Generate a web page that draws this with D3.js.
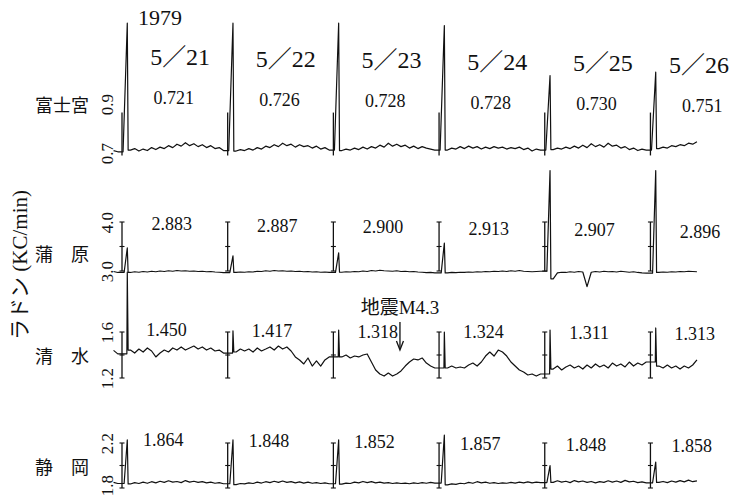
<!DOCTYPE html>
<html>
<head>
<meta charset="utf-8">
<script src="https://cdn.jsdelivr.net/npm/d3@7"></script>
<style>
  body { margin: 0; background: #fff; }
  svg { display: block; }
</style>
</head>
<body>
<svg id="chart" width="732" height="497"></svg>
<script>
// Radon records at four stations, 1979 May 21-26
const year = "1979";
const days = ["5／21", "5／22", "5／23", "5／24", "5／25", "5／26"];
const stations = ["富士宮", "蒲　原", "清　水", "静　岡"];
const yTitle = "ラドン (KC/min)";

// daily means printed in each strip
const fujiMeans = [0.721, 0.726, 0.728, 0.728, 0.730, 0.751];
const kambaraMeans = [2.883, 2.887, 2.900, 2.913, 2.907, 2.896];
const shimizuMeans = [1.450, 1.417, 1.318, 1.324, 1.311, 1.313];
const shizuokaMeans = [1.864, 1.848, 1.852, 1.857, 1.848, 1.858];

// tick labels
const fujiTicks = [0.7, 0.9];
const kambaraTicks = [3.0, 4.0];
const shimizuTicks = [1.2, 1.6];
const shizuokaTicks = [1.8, 2.2];

// height of the daily calibration spike
const fujiSpikes = [1.23, 1.23, 1.23, 1.22, 1.016, 1.03];
const kambaraSpikes = [3.47, 3.31, 3.37, 3.57, 5.05, 5.05];
const shimizuSpikes = [2.12, 1.61, 1.617, 1.6, 1.617, 1.635];
const shizuokaSpikes = [2.227, 2.227, 2.227, 2.27, 2.0, 2.03];

// trace just before the first marker
const fujiLead = [0.71, 0.705];
const kambaraLead = [2.99, 2.97];
const shimizuLead = [1.44, 1.41];
const shizuokaLead = [1.85, 1.84];

// trace samples, one list per day (every 0.04 day after the spike)
const fujiTrace = [
  [0.712, 0.718, 0.708, 0.716, 0.71, 0.722, 0.714, 0.724, 0.718, 0.73, 0.722, 0.736, 0.728, 0.742, 0.73, 0.738, 0.726, 0.734, 0.722, 0.73, 0.718, 0.722, 0.71],
  [0.708, 0.714, 0.71, 0.718, 0.712, 0.722, 0.716, 0.728, 0.722, 0.734, 0.726, 0.74, 0.73, 0.736, 0.724, 0.734, 0.726, 0.73, 0.72, 0.728, 0.716, 0.722, 0.712],
  [0.71, 0.716, 0.712, 0.72, 0.714, 0.724, 0.716, 0.726, 0.72, 0.732, 0.724, 0.74, 0.728, 0.736, 0.726, 0.732, 0.72, 0.728, 0.718, 0.726, 0.72, 0.716, 0.712],
  [0.712, 0.72, 0.716, 0.726, 0.718, 0.728, 0.72, 0.726, 0.716, 0.724, 0.718, 0.726, 0.72, 0.724, 0.716, 0.722, 0.718, 0.724, 0.714, 0.72, 0.708, 0.716, 0.712],
  [0.714, 0.72, 0.716, 0.724, 0.718, 0.728, 0.72, 0.732, 0.722, 0.738, 0.726, 0.734, 0.724, 0.74, 0.728, 0.732, 0.72, 0.726, 0.714, 0.72, 0.71, 0.716, 0.712],
  [0.718, 0.724, 0.72, 0.73, 0.726, 0.734, 0.73, 0.74, 0.736, 0.746]
];
const kambaraTrace = [
  [2.97, 2.985, 2.975, 2.99, 2.98, 2.995, 2.985, 3.0, 2.99, 3.005, 2.995, 3.01, 3.0, 3.005, 2.995, 3.0, 2.99, 2.995, 2.985, 2.99, 2.98, 2.975, 2.965],
  [2.97, 2.98, 2.975, 2.985, 2.98, 2.995, 2.99, 3.005, 2.995, 3.01, 3.0, 3.005, 2.995, 3.0, 2.99, 2.995, 2.985, 2.99, 2.98, 2.985, 2.975, 2.98, 2.97],
  [2.975, 2.985, 2.98, 2.99, 2.985, 3.0, 2.99, 3.01, 3.0, 3.015, 3.005, 3.0, 2.995, 3.005, 2.99, 2.995, 2.985, 2.99, 2.98, 2.975, 2.965, 2.97, 2.96],
  [2.96, 2.97, 2.965, 2.975, 2.97, 2.98, 2.975, 2.985, 2.98, 2.99, 2.985, 2.995, 2.99, 3.0, 2.99, 3.005, 2.995, 3.01, 2.995, 2.99, 2.985, 2.99, 2.995],
  [2.84, 2.96, 2.975, 2.97, 2.985, 2.975, 2.99, 2.98, 2.68, 2.975, 2.99, 2.98, 2.995, 2.985, 2.99, 2.98, 2.995, 2.985, 2.975, 2.985, 2.97, 2.96, 2.955],
  [2.97, 2.98, 2.975, 2.985, 2.98, 2.99, 2.985, 2.995, 2.99, 2.985]
];
const shimizuTrace = [
  [1.443, 1.417, 1.452, 1.426, 1.461, 1.435, 1.383, 1.417, 1.443, 1.426, 1.461, 1.443, 1.47, 1.443, 1.461, 1.478, 1.452, 1.47, 1.443, 1.461, 1.435, 1.443, 1.417],
  [1.426, 1.452, 1.435, 1.452, 1.426, 1.461, 1.435, 1.452, 1.47, 1.443, 1.478, 1.452, 1.47, 1.435, 1.383, 1.357, 1.322, 1.374, 1.304, 1.348, 1.304, 1.357, 1.383],
  [1.383, 1.4, 1.374, 1.391, 1.383, 1.4, 1.409, 1.339, 1.27, 1.235, 1.217, 1.243, 1.217, 1.235, 1.261, 1.304, 1.339, 1.365, 1.357, 1.374, 1.33, 1.304, 1.287],
  [1.287, 1.304, 1.287, 1.296, 1.287, 1.313, 1.33, 1.304, 1.339, 1.391, 1.426, 1.391, 1.443, 1.426, 1.391, 1.339, 1.304, 1.27, 1.252, 1.226, 1.235, 1.217, 1.235],
  [1.278, 1.304, 1.27, 1.296, 1.313, 1.287, 1.304, 1.278, 1.313, 1.287, 1.322, 1.296, 1.313, 1.287, 1.33, 1.304, 1.322, 1.296, 1.339, 1.304, 1.33, 1.313, 1.339],
  [1.304, 1.287, 1.313, 1.287, 1.304, 1.278, 1.304, 1.287, 1.313, 1.357]
];
const shizuokaTrace = [
  [1.836, 1.848, 1.84, 1.852, 1.842, 1.856, 1.846, 1.86, 1.85, 1.864, 1.852, 1.858, 1.848, 1.866, 1.852, 1.86, 1.85, 1.856, 1.846, 1.852, 1.842, 1.848, 1.838],
  [1.83, 1.84, 1.836, 1.846, 1.84, 1.852, 1.844, 1.856, 1.848, 1.86, 1.85, 1.862, 1.85, 1.856, 1.846, 1.854, 1.844, 1.852, 1.842, 1.848, 1.84, 1.846, 1.838],
  [1.834, 1.844, 1.84, 1.852, 1.846, 1.858, 1.848, 1.856, 1.846, 1.852, 1.844, 1.848, 1.84, 1.846, 1.84, 1.844, 1.838, 1.846, 1.84, 1.848, 1.842, 1.85, 1.844],
  [1.828, 1.836, 1.832, 1.842, 1.838, 1.85, 1.842, 1.856, 1.846, 1.852, 1.842, 1.848, 1.84, 1.846, 1.842, 1.85, 1.844, 1.852, 1.846, 1.854, 1.846, 1.852, 1.848],
  [1.85, 1.864, 1.852, 1.86, 1.848, 1.866, 1.854, 1.862, 1.85, 1.858, 1.846, 1.856, 1.85, 1.864, 1.852, 1.862, 1.85, 1.868, 1.854, 1.86, 1.848, 1.854, 1.846],
  [1.85, 1.858, 1.848, 1.862, 1.852, 1.866, 1.854, 1.87, 1.856, 1.864]
];

// calibration marker extent at each day start
const fujiMarker = [0.69, 0.865];
const kambaraMarker = [3.0, 4.0];
const shimizuMarker = [1.2, 1.6];
const shizuokaMarker = [1.8, 2.2];

// earthquake on 5/23
const quakeLabel = "地震M4.3";
const quakeTime = 2.63;

const serif = "'Liberation Serif', 'DejaVu Serif', 'Noto Sans CJK JP', serif";
const cjk = "'Noto Sans CJK JP', sans-serif";
const ink = "#111";

const svg = d3.select("#chart");

// time in days since 5/21 00h
const x = d3.scaleLinear().domain([0, 5.45]).range([122, 698]);

const panels = [
  { name: stations[0], means: fujiMeans, ticks: fujiTicks, spikes: fujiSpikes, lead: fujiLead, trace: fujiTrace,
    marker: fujiMarker, caps: false, rise: 0.04, tickShift: 0,
    y: d3.scaleLinear().domain([0.7, 0.9]).range([153, 104]), nameY: 106, meanY: 104, meanOff: 0.49, meanSlope: 1.5 },
  { name: stations[1], means: kambaraMeans, ticks: kambaraTicks, spikes: kambaraSpikes, lead: kambaraLead, trace: kambaraTrace,
    marker: kambaraMarker, caps: true, rise: 0.03, tickShift: 0,
    y: d3.scaleLinear().domain([3.0, 4.0]).range([271, 222]), nameY: 255, meanY: 230, meanOff: 0.47, meanSlope: 1.5 },
  { name: stations[2], means: shimizuMeans, ticks: shimizuTicks, spikes: shimizuSpikes, lead: shimizuLead, trace: shimizuTrace,
    marker: shimizuMarker, caps: true, rise: 0.004, tickShift: 0,
    y: d3.scaleLinear().domain([1.2, 1.6]).range([378, 332]), nameY: 357, meanY: 336, meanOff: 0.42, meanSlope: 0.8 },
  { name: stations[3], means: shizuokaMeans, ticks: shizuokaTicks, spikes: shizuokaSpikes, lead: shizuokaLead, trace: shizuokaTrace,
    marker: shizuokaMarker, caps: true, rise: 0.03, tickShift: 3,
    y: d3.scaleLinear().domain([1.8, 2.2]).range([488, 443]), nameY: 468, meanY: 446, meanOff: 0.39, meanSlope: 1.2 }
];

// spike then the sampled trace, day by day
function buildSeries(lead, spikes, trace, rise) {
  const pts = lead.map((v, i) => ({ t: -0.08 + 0.04 * i, v: v }));
  trace.forEach((vals, d) => {
    const prev = pts[pts.length - 1].v;
    pts.push({ t: d + 0.05 - rise, v: prev });
    pts.push({ t: d + 0.05, v: spikes[d] });
    pts.push({ t: d + 0.058, v: vals[0] });
    vals.forEach((v, i) => pts.push({ t: d + 0.08 + 0.04 * i, v: v }));
  });
  return pts;
}

panels.forEach(p => {
  const g = svg.append("g");

  // station name
  g.append("text")
    .attr("x", 35).attr("y", p.nameY)
    .attr("dy", "0.36em")
    .attr("font-family", cjk).attr("font-size", 18).attr("fill", ink)
    .text(p.name);

  // rotated tick labels
  const axis = d3.axisLeft(p.y).tickValues(p.ticks).tickSize(0).tickFormat(d3.format(".1f"));
  const ga = g.append("g").attr("transform", "translate(113,0)").call(axis);
  ga.select(".domain").remove();
  ga.attr("font-family", serif).attr("font-size", 17);
  ga.selectAll(".tick text")
    .attr("x", (d, i) => i === 0 ? p.tickShift : 0).attr("dy", 0)
    .attr("fill", ink)
    .attr("text-anchor", "middle")
    .attr("transform", "rotate(-90)");

  // calibration markers
  const mk = g.selectAll(".marker").data(days).enter().append("g")
    .attr("transform", (d, i) => "translate(" + x(i) + ",0)");
  mk.append("line")
    .attr("y1", p.y(p.marker[0])).attr("y2", p.y(p.marker[1]))
    .attr("stroke", ink).attr("stroke-width", 1.3);
  if (p.caps) {
    [p.marker[0], p.marker[1], (p.marker[0] + p.marker[1]) / 2].forEach(v => {
      mk.append("line")
        .attr("x1", -2.5).attr("x2", 2.5)
        .attr("y1", p.y(v)).attr("y2", p.y(v))
        .attr("stroke", ink).attr("stroke-width", 1.1);
    });
  }

  // trace
  const line = d3.line().x(d => x(d.t)).y(d => p.y(d.v));
  g.append("path")
    .datum(buildSeries(p.lead, p.spikes, p.trace, p.rise))
    .attr("d", line)
    .attr("fill", "none")
    .attr("stroke", ink)
    .attr("stroke-width", 1.2)
    .attr("stroke-linejoin", "round");

  // daily means
  g.selectAll(".mean").data(p.means).enter().append("text")
    .attr("x", (d, i) => x(i + p.meanOff))
    .attr("y", (d, i) => p.meanY + p.meanSlope * i)
    .attr("text-anchor", "middle")
    .attr("font-family", serif).attr("font-size", 18).attr("fill", ink)
    .text(d => d3.format(".3f")(d));
});

// year and dates
svg.append("text")
  .attr("x", 138).attr("y", 25)
  .attr("font-family", serif).attr("font-size", 22).attr("fill", ink)
  .text(year);

svg.selectAll(".date").data(days).enter().append("text")
  .attr("x", (d, i) => Math.min(x(i + 0.55), 699))
  .attr("y", (d, i) => 65 + 1.6 * i)
  .attr("text-anchor", "middle")
  .attr("font-family", serif).attr("font-size", 24).attr("fill", ink)
  .text(d => d);

// y title
svg.append("text")
  .attr("transform", "translate(27,265) rotate(-90)")
  .attr("text-anchor", "middle")
  .attr("font-family", serif).attr("font-size", 21).attr("fill", ink)
  .text(yTitle);

// earthquake arrow
const qx = x(quakeTime);
svg.append("text")
  .attr("x", qx).attr("y", 314)
  .attr("text-anchor", "middle")
  .attr("font-family", serif).attr("font-size", 19).attr("fill", ink)
  .text(quakeLabel);
svg.append("line")
  .attr("x1", qx).attr("x2", qx).attr("y1", 322).attr("y2", 349)
  .attr("stroke", ink).attr("stroke-width", 1.3);
svg.append("path")
  .attr("d", "M" + (qx - 3.5) + ",341 L" + qx + ",350 L" + (qx + 3.5) + ",341")
  .attr("fill", "none").attr("stroke", ink).attr("stroke-width", 1.3);
</script>
</body>
</html>
